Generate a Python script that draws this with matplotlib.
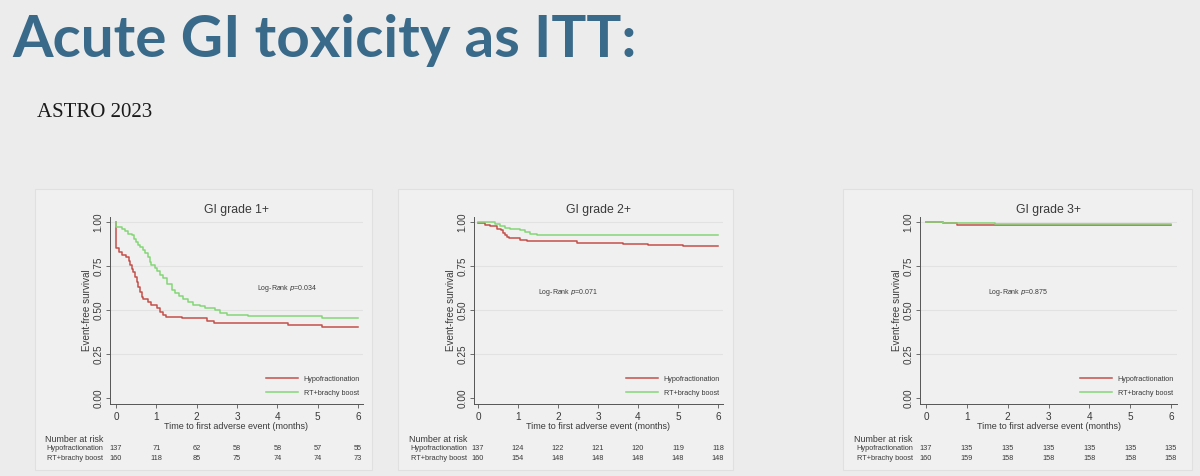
import matplotlib
matplotlib.use("Agg")
import matplotlib.pyplot as plt
from matplotlib.patches import Rectangle
from matplotlib.ticker import FormatStrFormatter

plt.rcParams['font.family'] = ['Liberation Sans', 'DejaVu Sans']

# --- data ---
panel_titles = ['GI grade 1+', 'GI grade 2+', 'GI grade 3+']
p_values = ['0.034', '0.071', '0.875']
groups = ['Hypofractionation', 'RT+brachy boost']
risk_times = [0, 1, 2, 3, 4, 5, 6]

# GI grade 1+
g1_hypo_t = [0, 0.01, 0.074, 0.14, 0.24, 0.31, 0.35, 0.39, 0.43, 0.47, 0.51, 0.55, 0.60, 0.64,
             0.68, 0.80, 0.88, 1.01, 1.09, 1.17, 1.24, 1.63, 2.25, 2.44, 4.27, 5.10, 6.0]
g1_hypo_s = [1.0, 0.85, 0.83, 0.815, 0.80, 0.78, 0.755, 0.735, 0.715, 0.69, 0.66, 0.63, 0.60, 0.575,
             0.56, 0.545, 0.527, 0.51, 0.49, 0.473, 0.46, 0.455, 0.44, 0.426, 0.417, 0.403, 0.403]
g1_rt_t = [0, 0.01, 0.14, 0.22, 0.29, 0.39, 0.45, 0.49, 0.55, 0.60, 0.68, 0.72, 0.79, 0.84, 0.88,
           0.97, 1.01, 1.09, 1.17, 1.26, 1.38, 1.46, 1.55, 1.67, 1.79, 1.92, 2.08, 2.21, 2.45,
           2.58, 2.74, 3.28, 5.10, 6.0]
g1_rt_s = [1.0, 0.972, 0.958, 0.947, 0.934, 0.924, 0.905, 0.886, 0.87, 0.858, 0.84, 0.825, 0.80,
           0.775, 0.757, 0.74, 0.72, 0.70, 0.68, 0.65, 0.615, 0.595, 0.58, 0.56, 0.545, 0.53,
           0.52, 0.511, 0.498, 0.483, 0.473, 0.464, 0.455, 0.455]
g1_risk_hypo = [137, 71, 62, 58, 58, 57, 55]
g1_risk_rt = [160, 118, 85, 75, 74, 74, 73]

# GI grade 2+
g2_hypo_t = [0, 0.17, 0.30, 0.47, 0.57, 0.63, 0.68, 0.73, 0.78, 1.05, 1.22, 2.47, 3.63, 4.26, 5.13, 6.0]
g2_hypo_s = [0.995, 0.985, 0.975, 0.962, 0.953, 0.94, 0.924, 0.913, 0.909, 0.90, 0.89, 0.883,
             0.875, 0.87, 0.862, 0.862]
g2_rt_t = [0, 0.43, 0.55, 0.68, 0.80, 1.05, 1.18, 1.30, 1.47, 6.0]
g2_rt_s = [1.0, 0.989, 0.977, 0.968, 0.962, 0.953, 0.943, 0.934, 0.924, 0.924]
g2_risk_hypo = [137, 124, 122, 121, 120, 119, 118]
g2_risk_rt = [160, 154, 148, 148, 148, 148, 148]

# GI grade 3+
g3_hypo_t = [0, 0.42, 0.75, 6.0]
g3_hypo_s = [1.0, 0.993, 0.985, 0.985]
g3_rt_t = [0, 0.42, 1.69, 6.0]
g3_rt_s = [1.0, 0.994, 0.987, 0.987]
g3_risk_hypo = [137, 135, 135, 135, 135, 135, 135]
g3_risk_rt = [160, 159, 158, 158, 158, 158, 158]

curves = [
    ((g1_hypo_t, g1_hypo_s), (g1_rt_t, g1_rt_s)),
    ((g2_hypo_t, g2_hypo_s), (g2_rt_t, g2_rt_s)),
    ((g3_hypo_t, g3_hypo_s), (g3_rt_t, g3_rt_s)),
]
risks = [(g1_risk_hypo, g1_risk_rt), (g2_risk_hypo, g2_risk_rt), (g3_risk_hypo, g3_risk_rt)]
p_pos = [(4.24, 0.625), (2.25, 0.60), (2.25, 0.60)]

# --- layout (pixels in a 1200x476 canvas) ---
W, H = 1200, 476
RED = '#c4504b'
GREEN = '#84d676'
TXT = '#3a3a3a'

fig = plt.figure(figsize=(12, 4.76), dpi=100)
fig.patch.set_facecolor('#ececec')

fig.text(12 / W, 1 - 57 / H, 'Acute GI toxicity as ITT:', family='Lato', weight='bold',
         fontsize=42, color='#3a6a8a', va='baseline', ha='left')
fig.text(37 / W, 1 - 117 / H, 'ASTRO 2023', family='Liberation Serif', fontsize=15,
         color='#1a1a1a', va='baseline', ha='left')

# panel box: left, right, top, bottom ; axes: spine x, x of t=0, x of t=6, axis end
panels = [
    dict(box=(35, 372, 189, 470), spine=110, x0=116, x6=358, xend=363, lab_r=103, nar=45),
    dict(box=(398, 733, 189, 470), spine=474, x0=478, x6=718, xend=723, lab_r=467, nar=409),
    dict(box=(843, 1192, 189, 470), spine=920, x0=926, x6=1171, xend=1177, lab_r=913, nar=854),
]
y1_px, y0_px = 222, 398
ybot, ytop = -0.035, 1.03

for i, pn in enumerate(panels):
    l, r, t, b = pn['box']
    fig.patches.append(Rectangle((l / W, 1 - b / H), (r - l) / W, (b - t) / H,
                                 transform=fig.transFigure, facecolor='#f0f0f0',
                                 edgecolor='#e0e0e0', lw=0.8, zorder=-5))

    ppm = (pn['x6'] - pn['x0']) / 6.0
    xmin = -(pn['x0'] - pn['spine']) / ppm
    xmax = 6 + (pn['xend'] - pn['x6']) / ppm
    ppu = y0_px - y1_px
    ax_bot = y0_px - ybot * ppu
    ax_top = y1_px - (ytop - 1) * ppu
    ax = fig.add_axes([pn['spine'] / W, 1 - ax_bot / H, (pn['xend'] - pn['spine']) / W,
                       (ax_bot - ax_top) / H])
    ax.set_zorder(2)
    ax.set_facecolor('none')
    ax.set_xlim(xmin, xmax)
    ax.set_ylim(ybot, ytop)

    for gy in [0.25, 0.5, 0.75, 1.0]:
        ax.axhline(gy, color='#e2e2e2', lw=0.8, zorder=0)

    (ht, hs), (rt, rs) = curves[i]
    ax.step(ht, hs, where='post', color=RED, lw=1.1, label=groups[0])
    ax.step(rt, rs, where='post', color=GREEN, lw=1.1, label=groups[1])

    for s in ['top', 'right']:
        ax.spines[s].set_visible(False)
    for s in ['left', 'bottom']:
        ax.spines[s].set_color('#555555')
        ax.spines[s].set_linewidth(0.7)
    ax.set_xticks(risk_times)
    ax.set_yticks([0, 0.25, 0.5, 0.75, 1.0])
    ax.yaxis.set_major_formatter(FormatStrFormatter('%.2f'))
    ax.tick_params(axis='both', length=3, width=0.6, color='#555555', labelsize=7.2,
                   labelcolor=TXT, pad=1.5)
    ax.tick_params(axis='x', pad=3)
    ax.tick_params(axis='y', labelrotation=90)
    for lab in ax.get_yticklabels():
        lab.set_va('center')

    ax.set_xlabel('Time to first adverse event (months)', fontsize=6.5, color=TXT, labelpad=0)
    ax.set_ylabel('Event-free survival', fontsize=7.1, color=TXT, labelpad=1)
    ax.set_title(panel_titles[i], fontsize=8.8, color=TXT, pad=2.5)

    px, py = p_pos[i]
    ax.text(px, py, 'Log-Rank $p$=' + p_values[i], fontsize=5, color=TXT, ha='center', va='center')

    leg = ax.legend(loc='lower right', bbox_to_anchor=(1.0, 0.025), frameon=False, fontsize=5.2,
                    handlelength=4.4, handletextpad=0.8, labelspacing=0.95, borderaxespad=0)
    for tx in leg.get_texts():
        tx.set_color(TXT)

    # number at risk table
    fig.text(pn['nar'] / W, 1 - 440 / H, 'Number at risk', fontsize=6.4, color=TXT,
             ha='left', va='center')
    hyp, rtb = risks[i]
    for row, (name, vals) in enumerate([(groups[0], hyp), (groups[1], rtb)]):
        yf = 1 - (449 + 9 * row) / H
        fig.text(pn['lab_r'] / W, yf, name, fontsize=5.3, color=TXT, ha='right', va='center')
        for tm, v in zip(risk_times, vals):
            xf = (pn['x0'] + tm * ppm) / W
            fig.text(xf, yf, str(v), fontsize=5.3, color=TXT, ha='center', va='center')

fig.savefig('out.png', dpi=100, facecolor=fig.get_facecolor())
